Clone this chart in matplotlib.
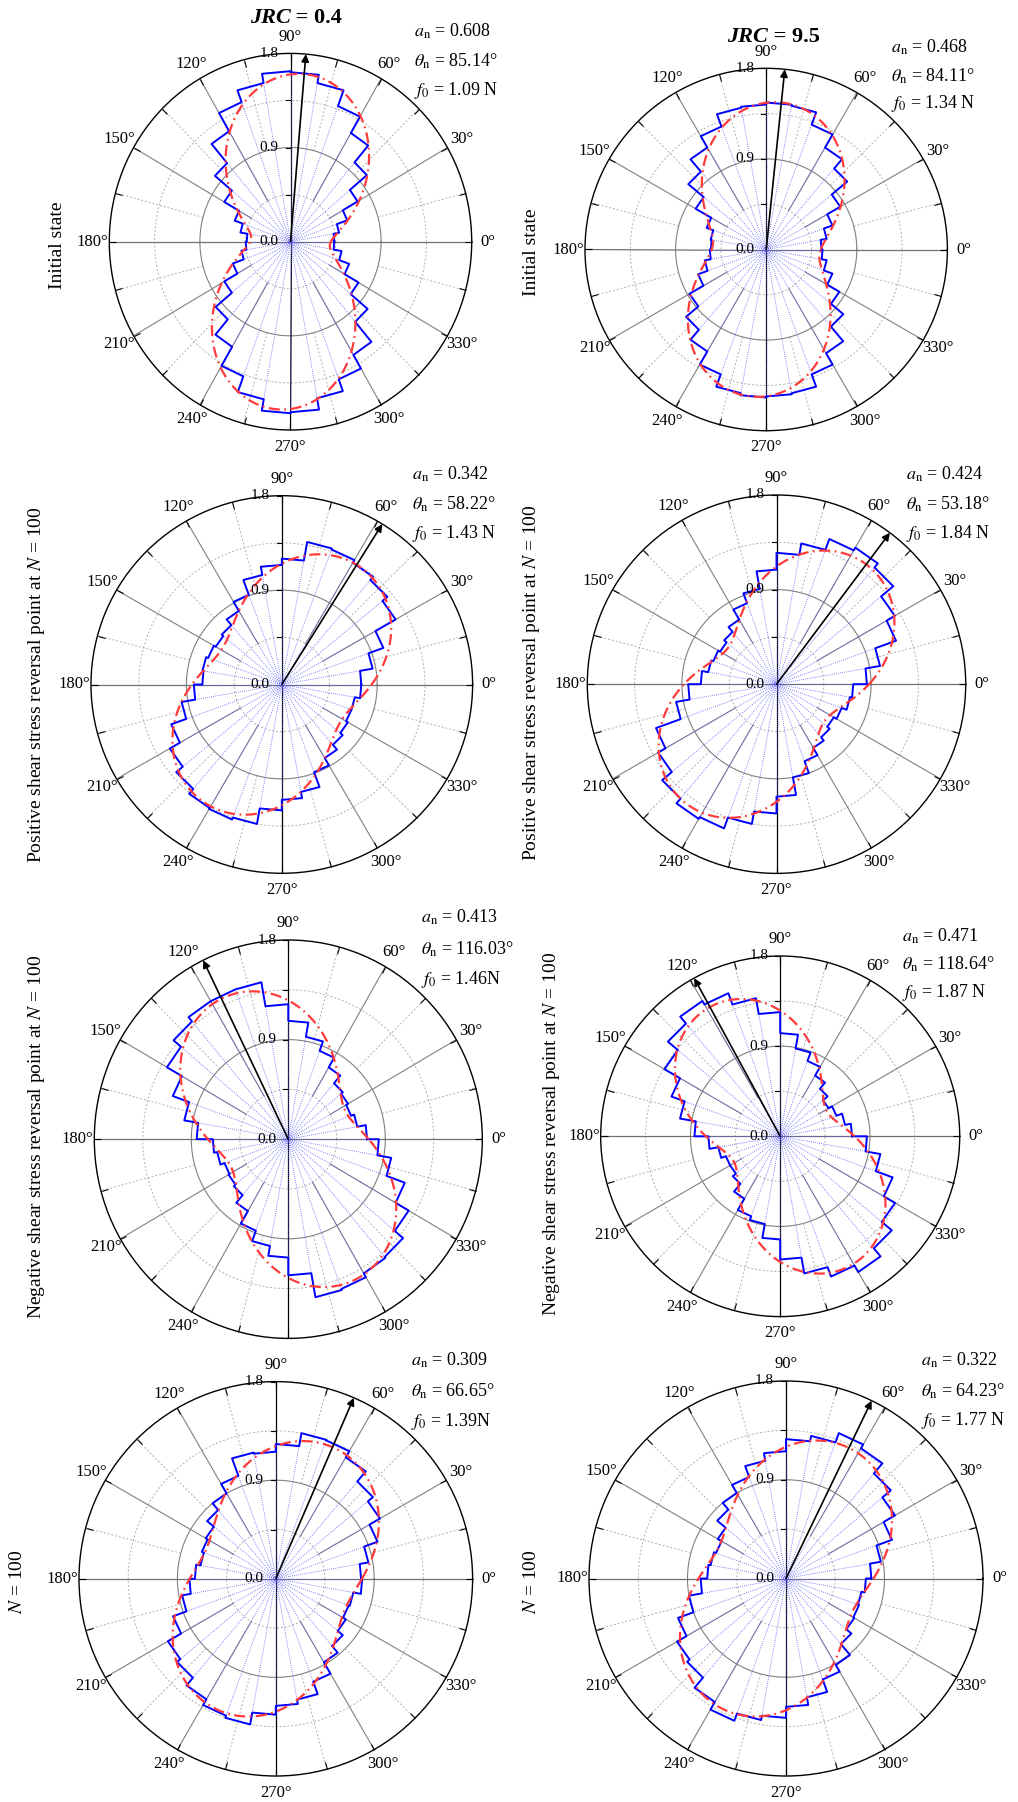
import numpy as np
import matplotlib.pyplot as plt
from matplotlib.transforms import offset_copy

plt.rcParams['font.family'] = ['Liberation Serif', 'DejaVu Serif']
plt.rcParams['mathtext.fontset'] = 'stix'

W, H = 1018, 1802
RMAX = 1.8

# normalised contact force per 10 degree bin: 0-10, 10-20, ..., 350-360
initial_jrc04 = [0.435, 0.49, 0.60, 0.77, 0.99, 1.20, 1.38, 1.54, 1.62,
                 1.63, 1.54, 1.42, 1.22, 0.98, 0.76, 0.59, 0.505, 0.435,
                 0.445, 0.495, 0.61, 0.76, 0.97, 1.16, 1.37, 1.53, 1.64,
                 1.63, 1.52, 1.40, 1.25, 1.00, 0.78, 0.62, 0.515, 0.435]
initial_jrc95 = [0.55, 0.61, 0.70, 0.85, 1.05, 1.17, 1.32, 1.45, 1.46,
                 1.44, 1.43, 1.30, 1.17, 1.01, 0.81, 0.63, 0.56, 0.55,
                 0.56, 0.62, 0.72, 0.88, 1.04, 1.17, 1.32, 1.45, 1.47,
                 1.46, 1.45, 1.32, 1.19, 1.00, 0.84, 0.70, 0.61, 0.56]
positive_jrc04 = [0.75, 0.87, 1.02, 1.24, 1.30, 1.34, 1.37, 1.38, 1.20,
                  1.14, 1.06, 0.91, 0.81, 0.74, 0.72, 0.74, 0.76, 0.75,
                  0.83, 0.96, 1.11, 1.22, 1.30, 1.36, 1.37, 1.35, 1.20,
                  1.10, 1.04, 0.89, 0.81, 0.75, 0.72, 0.70, 0.70, 0.75]
positive_jrc95 = [0.86, 1.00, 1.21, 1.30, 1.45, 1.50, 1.47, 1.36, 1.25,
                  1.09, 0.92, 0.82, 0.71, 0.65, 0.62, 0.64, 0.66, 0.72,
                  0.84, 0.97, 1.22, 1.30, 1.42, 1.48, 1.46, 1.35, 1.23,
                  1.07, 0.90, 0.78, 0.70, 0.66, 0.63, 0.66, 0.71, 0.73]
negative_jrc04 = [0.73, 0.65, 0.62, 0.64, 0.66, 0.75, 0.85, 0.94, 1.07,
                  1.22, 1.44, 1.44, 1.44, 1.39, 1.30, 1.14, 0.98, 0.85,
                  0.70, 0.67, 0.63, 0.64, 0.66, 0.75, 0.88, 0.98, 1.07,
                  1.23, 1.45, 1.44, 1.40, 1.39, 1.29, 1.15, 0.97, 0.84]
negative_jrc95 = [0.72, 0.66, 0.60, 0.56, 0.62, 0.70, 0.80, 0.89, 1.03,
                  1.24, 1.40, 1.52, 1.56, 1.47, 1.34, 1.16, 1.02, 0.86,
                  0.72, 0.63, 0.58, 0.58, 0.62, 0.72, 0.85, 0.89, 1.03,
                  1.23, 1.39, 1.49, 1.565, 1.46, 1.33, 1.20, 1.02, 0.87]
n100_jrc04 = [0.78, 0.86, 0.99, 1.10, 1.16, 1.28, 1.345, 1.35, 1.23,
              1.16, 1.17, 1.00, 0.90, 0.82, 0.74, 0.72, 0.70, 0.74,
              0.79, 0.87, 1.00, 1.14, 1.18, 1.27, 1.33, 1.35, 1.24,
              1.16, 1.12, 1.00, 0.88, 0.80, 0.74, 0.71, 0.72, 0.79]
n100_jrc95 = [0.78, 0.88, 1.03, 1.15, 1.25, 1.37, 1.41, 1.32, 1.27,
              1.16, 1.09, 0.985, 0.90, 0.82, 0.72, 0.68, 0.70, 0.72,
              0.78, 0.90, 1.05, 1.15, 1.18, 1.30, 1.38, 1.31, 1.27,
              1.17, 1.10, 0.98, 0.91, 0.78, 0.72, 0.71, 0.70, 0.73]

rose_data = [initial_jrc04, initial_jrc95, positive_jrc04, positive_jrc95,
             negative_jrc04, negative_jrc95, n100_jrc04, n100_jrc95]
a_n = [0.608, 0.468, 0.342, 0.424, 0.413, 0.471, 0.309, 0.322]
theta_n = [85.14, 84.11, 58.22, 53.18, 116.03, 118.64, 66.65, 64.23]
f_0 = ['1.09 N', '1.34 N', '1.43 N', '1.84 N', '1.46N', '1.87 N', '1.39N', '1.77 N']
row_labels = ['Initial state',
              'Positive shear stress reversal point at $N$ = 100',
              'Negative shear stress reversal point at $N$ = 100',
              '$N$ = 100']
jrc = ['0.4', '9.5']
r_ticks = [0.0, 0.9, 1.8]
angle_labels = [f'{d}°' for d in range(0, 360, 30)]

# layout in pixels: circle centre x, y and half widths
boxes = [(290.5, 241.7, 181.2, 188.3), (766.2, 249.5, 181.2, 181.2),
         (281.8, 684.5, 190.8, 188.8), (776.5, 684.2, 189.2, 189.2),
         (288.3, 1139.2, 194.0, 199.2), (780.2, 1136.3, 179.5, 180.3),
         (275.8, 1578.8, 196.8, 197.2), (786.0, 1578.5, 197.0, 197.5)]
label_pos = [(57, 245), (531, 252), (37, 685), (532, 683),
             (37, 1137), (551, 1134), (18, 1582), (532, 1582)]
ann_x = [414, 890.7, 411.7, 905.7, 420.7, 902.3, 410.7, 920.7]
ann_y = [(36.7, 67, 95), (53, 82, 108), (480, 510, 538), (480, 510, 538),
         (923, 955, 984), (941.7, 970, 996.7), (1366, 1396.7, 1426), (1366, 1396.7, 1425)]
title_pos = [(290.5, 23.3), (767.5, 41.7)]


def draw_rose(ax, vals, an, thn, rx, hide_270=False):
    vals = np.asarray(vals)
    edges = np.deg2rad(np.arange(0, 370, 10))
    ax.set_ylim(0, RMAX)
    ax.set_yticks([])
    ax.grid(False)
    labels = list(angle_labels)
    if hide_270:
        # covered by the panel below in the original figure
        labels[9] = ''
    ax.set_xticks(np.deg2rad(np.arange(0, 360, 30)))
    ax.set_xticklabels(labels, fontsize=12)
    ax.set_xticks(np.deg2rad(np.arange(0, 360, 15)), minor=True)
    # tick marks on the outer circle only
    ax.xaxis.set_tick_params(which='both', bottom=False, top=True, direction='in',
                             length=5, width=0.8, pad=5)
    ax.spines['polar'].set_linewidth(1.0)

    # grid
    circ = np.linspace(0, 2 * np.pi, 500)
    ax.plot(circ, np.full_like(circ, 0.9), color='#808080', lw=0.8, zorder=1)
    for r in (0.45, 1.35):
        ax.plot(circ, np.full_like(circ, r), color='#b0b0b0', lw=0.7, ls=(0, (2, 2)), zorder=1)
    for d in range(15, 360, 30):
        t = np.deg2rad(d)
        ax.plot([t, t], [0.9, RMAX], color='#b0b0b0', lw=0.7, ls=(0, (2, 2)), zorder=1)
    for d in (30, 60, 120, 150, 210, 240, 300, 330):
        t = np.deg2rad(d)
        ax.plot([t, t], [0.45, RMAX], color='#808080', lw=0.8, zorder=1)
    for d, c in ((0, '#707070'), (180, '#707070'), (90, 'black'), (270, 'black')):
        t = np.deg2rad(d)
        ax.plot([t, t], [0, RMAX], color=c, lw=0.9, zorder=1)

    # radial ticks and labels on the 90 degree axis
    dx = 5 / (rx / RMAX)
    for r in (0.45, 0.9, 1.35, 1.8):
        ax.plot([np.pi / 2, np.arctan2(r, -dx)], [r, np.hypot(r, dx)],
                color='black', lw=0.8, zorder=1)
    tr = offset_copy(ax.transData, fig=ax.figure, x=-12, y=0, units='dots')
    for r in r_ticks:
        ax.text(np.pi / 2, r, f'{r:.1f}', transform=tr, ha='right', va='center',
                fontsize=11, zorder=6)

    # fan of bin edges
    rmax_edge = np.maximum(vals, np.roll(vals, 1))
    ax.vlines(edges[:-1], 0, rmax_edge, colors='#5a5aff', lw=0.6,
              linestyles=(0, (1, 1.5)), zorder=2)

    # step outline
    th, rr = [], []
    for i in range(36):
        th += [edges[i], edges[i + 1]]
        rr += [vals[i], vals[i]]
    th.append(edges[-1])
    rr.append(vals[0])
    ax.plot(th, rr, color='#0000ff', lw=1.4, zorder=3)

    # fitted curve
    t = np.linspace(0, 2 * np.pi, 721)
    ax.plot(t, 1 + an * np.cos(2 * (t - np.deg2rad(thn))), color='#ff3b3b',
            lw=1.6, ls=(0, (5, 2, 0.8, 2)), zorder=4)

    # principal direction
    tn = np.deg2rad(thn)
    ax.annotate('', xy=(tn, RMAX), xytext=(tn, 0),
                arrowprops=dict(arrowstyle='-|>', color='black', lw=1.2,
                                mutation_scale=11, shrinkA=0, shrinkB=0), zorder=5)


fig = plt.figure(figsize=(W / 100, H / 100), dpi=100)

for k in range(8):
    cx, cy, rx, ry = boxes[k]
    ax = fig.add_axes([(cx - rx) / W, 1 - (cy + ry) / H, 2 * rx / W, 2 * ry / H],
                      projection='polar')
    ax.set_aspect('auto')
    draw_rose(ax, rose_data[k], a_n[k], theta_n[k], rx, hide_270=(k == 4))

    lx, ly = label_pos[k]
    fig.text(lx / W, 1 - ly / H, row_labels[k // 2], rotation=90,
             ha='center', va='center', fontsize=14)

    ys = ann_y[k]
    x0 = ann_x[k] / W
    fig.text(x0, 1 - ys[0] / H, r'$a_{\rm n}$ = %.3f' % a_n[k], fontsize=13, va='baseline')
    fig.text(x0, 1 - ys[1] / H, r'$\theta_{\rm n}$ = %.2f°' % theta_n[k], fontsize=13, va='baseline')
    fig.text(x0, 1 - ys[2] / H, r'$f_0$ = ' + f_0[k], fontsize=13, va='baseline')

for j in range(2):
    x, y = title_pos[j]
    fig.text(x / W, 1 - y / H, 'JRC', style='italic', weight='bold',
             ha='right', va='baseline', fontsize=16)
    fig.text(x / W, 1 - y / H, ' = ' + jrc[j], weight='bold',
             ha='left', va='baseline', fontsize=16)

fig.savefig('out.png', dpi=100, facecolor='white')
